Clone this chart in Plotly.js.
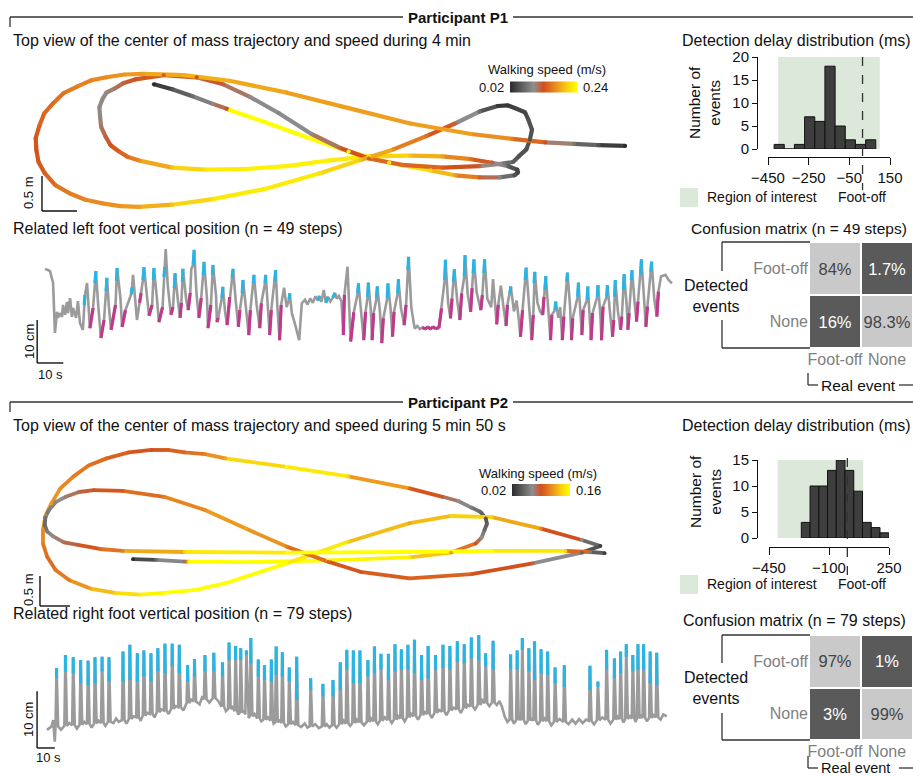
<!DOCTYPE html>
<html><head><meta charset="utf-8">
<script src="https://cdn.plot.ly/plotly-3.0.1.min.js"></script>
<style>html,body{margin:0;padding:0;background:#fff}#chart{width:913px;height:776px}</style>
</head><body><div id="chart"></div>
<script>
// ---------------- DATA ----------------
// Trajectories: [x (m), y (m), walking speed (m/s)]
const p1Path = [
[1.60,1.81,0.02],[1.86,1.74,0.05],[2.15,1.64,0.07],[2.44,1.53,0.10],[2.64,1.46,0.13],[2.69,1.44,0.24],[3.21,1.26,0.24],[3.79,1.05,0.24],[4.38,0.85,0.24],[4.96,0.69,0.23],[5.55,0.58,0.21],[5.90,0.51,0.18],[6.25,0.48,0.14],[6.54,0.48,0.09],[6.75,0.51,0.05],[6.80,0.55,0.04],[6.79,0.59,0.04],[6.66,0.64,0.06],[6.43,0.69,0.12],[6.13,0.74,0.15],[5.72,0.78,0.18],[5.26,0.79,0.20],[4.67,0.78,0.22],[4.08,0.72,0.23],[3.50,0.64,0.23],[2.91,0.60,0.23],[2.33,0.59,0.22],[1.86,0.62,0.20],[1.39,0.72,0.17],[1.23,0.77,0.15],[1.10,0.85,0.14],[0.98,0.94,0.13],[0.91,1.06,0.12],[0.845,1.20,0.11],[0.83,1.35,0.10],[0.82,1.48,0.10],[0.86,1.59,0.10],[0.92,1.69,0.10],[1.04,1.75,0.11],[1.17,1.83,0.12],[1.33,1.88,0.13],[1.74,1.94,0.14],[2.21,1.91,0.13],[2.59,1.81,0.12],[2.97,1.63,0.10],[3.38,1.40,0.09],[3.85,1.10,0.10],[4.26,0.90,0.12],[4.67,0.75,0.14],[5.14,0.66,0.15],[5.72,0.62,0.14],[6.25,0.64,0.12],[6.60,0.68,0.08],[6.73,0.70,0.06],[6.81,0.78,0.05],[6.92,0.88,0.05],[6.97,1.02,0.05],[7.00,1.16,0.05],[6.95,1.30,0.05],[6.90,1.41,0.04],[6.78,1.46,0.04],[6.65,1.51,0.03],[6.51,1.50,0.03],[6.25,1.42,0.07],[5.90,1.25,0.12],[5.49,1.07,0.15],[5.02,0.88,0.17],[4.55,0.73,0.20],[3.97,0.54,0.22],[3.21,0.32,0.23],[2.44,0.17,0.22],[1.86,0.09,0.20],[1.39,0.06,0.18],[1.12,0.07,0.175],[0.86,0.11,0.17],[0.62,0.16,0.165],[0.40,0.25,0.16],[0.19,0.37,0.15],[0.04,0.54,0.14],[-0.05,0.70,0.135],[-0.08,0.87,0.13],[-0.09,1.04,0.135],[-0.04,1.21,0.14],[0.03,1.39,0.145],[0.16,1.54,0.15],[0.31,1.685,0.155],[0.51,1.78,0.16],[0.70,1.865,0.165],[0.92,1.91,0.17],[1.18,1.95,0.175],[1.45,1.96,0.18],[2.03,1.94,0.19],[2.68,1.86,0.19],[3.50,1.69,0.18],[4.38,1.47,0.18],[5.26,1.25,0.18],[6.13,1.10,0.18],[6.72,1.03,0.16],[7.19,0.98,0.13],[7.60,0.96,0.08],[7.95,0.94,0.05],[8.33,0.93,0.02]
];
const p2Path = [
[1.55,0.78,0.02],[1.93,0.77,0.05],[2.41,0.74,0.08],[2.49,0.74,0.16],[3.43,0.73,0.16],[4.80,0.76,0.16],[6.16,0.81,0.15],[6.85,0.89,0.12],[7.26,1.04,0.09],[7.36,1.14,0.07],[7.41,1.27,0.05],[7.45,1.37,0.045],[7.43,1.46,0.04],[7.34,1.57,0.05],[7.19,1.64,0.06],[6.97,1.75,0.07],[6.71,1.82,0.085],[6.16,1.96,0.10],[5.14,2.16,0.14],[4.11,2.32,0.16],[3.09,2.46,0.125],[2.75,2.53,0.11],[2.41,2.56,0.10],[2.13,2.60,0.095],[1.86,2.60,0.09],[1.48,2.56,0.095],[1.11,2.46,0.10],[0.81,2.34,0.105],[0.56,2.16,0.11],[0.34,1.96,0.115],[0.19,1.71,0.12],[0.09,1.50,0.12],[0.05,1.27,0.115],[0.05,1.04,0.11],[0.12,0.82,0.10],[0.26,0.60,0.105],[0.49,0.43,0.11],[0.84,0.29,0.125],[1.25,0.22,0.14],[1.66,0.19,0.15],[2.07,0.22,0.16],[2.60,0.27,0.16],[3.09,0.38,0.16],[4.11,0.71,0.16],[5.14,1.07,0.14],[6.16,1.38,0.125],[6.85,1.50,0.14],[7.53,1.48,0.14],[8.35,1.29,0.11],[9.03,1.10,0.07],[9.34,1.00,0.03],[9.03,0.89,0.05],[8.21,0.71,0.085],[7.19,0.53,0.095],[6.16,0.46,0.10],[5.34,0.57,0.09],[4.80,0.74,0.095],[4.11,0.99,0.11],[3.43,1.29,0.125],[2.75,1.60,0.115],[2.07,1.82,0.11],[1.38,1.92,0.095],[0.90,1.93,0.09],[0.65,1.90,0.08],[0.43,1.82,0.075],[0.26,1.73,0.065],[0.15,1.60,0.06],[0.09,1.48,0.055],[0.08,1.35,0.05],[0.12,1.24,0.06],[0.22,1.16,0.07],[0.40,1.06,0.08],[0.63,1.02,0.085],[1.00,0.95,0.10],[1.38,0.92,0.11],[2.41,0.90,0.14],[4.11,0.89,0.16],[6.16,0.90,0.16],[7.53,0.92,0.16],[8.76,0.92,0.14],[9.17,0.90,0.06],[9.41,0.88,0.03]
];
const p1SpeedRange = [0.02, 0.24];
const p2SpeedRange = [0.02, 0.16];

// P1 left foot vertical position: [time (s), height (cm), segment class 0=gray 1=rising (magenta) 2=detected (cyan)]
const p1Signal = [
[0,21.9,0],[1.9,21.4,0],[3.1,18.6,0],[3.8,7.0,0],[4.6,11.9,0],[5.0,10.5,0],[5.7,11.6,0],[6.5,10.7,0],[6.9,13.5,0],[7.7,11.2,0],[8.4,14.2,0],[8.8,11.6,0],[9.6,15.1,0],[10.3,10.7,0],[10.7,12.8,0],[11.9,10.5,0],[12.6,14.4,0],[13.4,9.3,0],[14.5,7.7,0],
[15.0,13.5,2],[15.3,15.8,0],[16.1,18.6,0],[17.2,8.1,1],
[18.4,12.8,0],[19.1,18.6,2],[19.5,21.4,0],[20.3,14.0,0],[21.4,5.8,1],
[22.6,10.0,0],[23.4,16.7,2],[23.7,19.8,0],[24.5,12.8,0],[25.3,7.7,1],
[27.0,13.5,0],[27.4,19.1,2],[27.6,22.1,0],[28.9,15.0,0],[29.5,8.4,1],
[30.8,12.3,0],[33.0,16.0,2],[33.3,17.5,0],[33.7,20.5,0],[35.2,10.0,0],
[36.2,14.0,1],[36.8,16.3,0],[37.5,19.3,2],[37.9,22.3,0],[39.0,14.7,0],[39.8,11.0,1],
[41.0,13.5,0],[41.5,19.3,2],[41.7,22.1,0],[43.0,14.0,0],[43.6,9.5,1],
[45.0,13.0,0],[45.5,20.0,2],[45.9,22.3,0],[46.2,26.5,0],[47.0,18.0,0],[48.2,11.2,1],
[49.0,13.0,0],[49.5,17.4,2],[49.8,20.9,0],[50.8,15.0,0],[51.7,10.5,1],
[52.2,14.0,0],[52.6,18.8,2],[52.8,21.9,0],[54.0,15.0,0],[54.8,12.3,1],
[55.6,16.3,0],[56.0,21.9,0],[56.7,22.8,2],[57.1,26.3,0],[58.0,16.0,0],[58.9,10.5,1],
[59.8,15.1,0],[60.6,20.5,2],[60.9,23.5,0],[62.0,15.0,0],[62.4,8.1,1],
[63.5,13.5,0],[64.1,20.5,2],[64.3,22.8,0],[65.5,15.5,0],[65.8,9.5,1],
[66.3,10.5,0],[67.7,15.1,2],[68.1,17.7,0],[68.9,12.0,0],[69.7,8.8,1],
[70.7,15.3,0],[71.6,19.8,2],[72.0,21.9,0],[73.0,14.5,0],
[74.0,8.4,1],[74.6,12.3,0],[75.5,16.2,2],[75.8,19.3,0],[76.8,12.8,0],
[78.0,6.5,1],[78.6,12.3,0],[79.7,18.5,2],[80.0,20.5,0],[81.0,13.5,0],
[82.2,8.1,1],[82.8,13.9,0],[84.2,18.5,2],[84.5,20.5,0],[85.3,14.0,0],
[86.0,6.5,1],[86.6,12.3,0],[88.0,18.9,2],[88.3,21.6,0],[89.0,12.5,0],
[89.8,5.3,1],[90.4,13.5,0],[91.5,17.5,0],[92.5,13.0,0],[93.4,14.7,2],[93.7,16.2,0],[94.5,11.5,0],[95.5,9.5,0],[97.3,5.3,0],[98.3,13.9,0],
[99.5,14.7,0],[100.5,13.6,0],[101.5,15.0,0],[102.5,14.0,0],[103.5,15.5,0],[104.5,14.5,2],[105.0,15.6,0],[105.8,14.2,0],[106.7,17.0,0],[107.5,14.0,2],[108.3,15.4,0],[109.2,14.3,0],[110.2,15.2,2],[111.0,16.3,0],[111.7,15.0,0],[112.5,15.6,0],[113.5,14.3,0],
[114.2,6.5,1],[114.6,15.8,0],[115.8,22.4,0],[117.0,5.0,1],[118.2,11.8,0],[119.7,16.2,2],[120.0,18.5,0],[121.0,12.0,0],
[122.0,5.3,1],[122.7,11.9,0],[123.5,15.4,2],[123.8,18.7,0],[124.7,12.5,0],
[125.2,5.3,1],[125.8,11.6,0],[126.9,15.0,2],[127.2,17.8,0],[128.2,12.0,0],
[128.9,4.6,1],[129.5,10.4,0],[131.0,15.0,2],[131.3,18.5,0],[132.3,12.5,0],
[133.0,6.1,1],[133.6,11.9,0],[135.0,16.2,2],[135.3,19.5,0],[136.2,13.0,0],
[137.5,8.8,1],[138.2,13.5,0],[138.9,21.6,2],[139.2,24.7,0],[140.2,13.0,0],
[141.5,8.0,0],[142.5,8.6,0],[143.5,7.9,0],[144.5,8.3,1],[145.5,7.9,1],[146.5,8.4,1],[147.5,7.9,1],[148.5,8.4,1],[149.5,8.0,1],[150.8,8.2,1],
[151.8,12.7,0],[153.0,19.3,2],[153.3,24.0,0],[154.3,14.0,0],
[155.2,10.4,1],[155.8,15.0,0],[156.4,18.9,2],[156.7,21.8,0],[157.8,14.5,0],
[158.8,10.0,1],[159.5,16.2,0],[160.5,20.1,2],[160.8,25.1,0],[161.8,16.0,0],
[162.9,11.9,1],[163.5,17.4,0],[163.9,20.9,2],[164.2,24.1,0],[165.2,16.5,0],
[166.8,12.3,1],[167.4,15.8,0],[168.0,20.9,2],[168.3,24.1,0],[169.3,15.0,0],
[170.8,13.0,0],[171.5,19.5,0],[172.9,9.0,1],[173.5,13.5,0],[174.5,18.0,0],[175.5,13.0,0],[176.5,8.6,1],[177.0,13.5,0],[178.0,16.2,2],[178.3,17.8,0],[179.5,12.0,0],[180.5,14.5,0],[181.2,11.0,0],
[182.0,6.1,1],[182.8,12.3,0],[183.8,19.3,2],[184.2,22.2,0],[185.2,14.0,0],
[186.3,5.3,1],[186.9,11.2,0],[187.2,18.5,2],[187.5,21.2,0],[188.5,14.0,0],[189.5,12.0,0],
[190.5,11.2,1],[191.0,15.4,0],[191.4,17.0,2],[191.7,20.2,0],[192.7,12.0,0],
[193.5,5.3,1],[194.0,11.2,0],[195.2,12.3,2],[195.5,14.3,0],[196.5,10.5,0],[197.2,13.0,0],
[198.0,5.3,1],[198.6,10.8,0],[199.7,18.9,2],[200.0,21.0,0],[201.0,13.0,0],
[201.5,5.3,1],[202.0,10.4,0],[203.9,15.4,2],[204.2,18.7,0],[205.0,12.0,0],
[205.5,6.5,1],[206.0,12.3,0],[207.5,14.7,2],[207.8,17.8,0],[208.6,11.0,0],
[209.0,5.3,1],[209.6,11.6,0],[211.4,15.4,2],[211.7,18.1,0],[212.6,11.0,0],
[213.0,5.3,1],[213.6,13.1,0],[215.0,15.4,2],[215.3,18.1,0],[216.3,11.5,0],
[217.2,6.1,1],[217.7,10.0,0],[218.0,15.4,2],[218.3,19.3,0],[219.3,12.0,0],
[220.3,7.7,1],[220.8,10.8,0],[221.4,17.0,2],[221.7,20.7,0],[222.7,13.0,0],
[223.1,7.7,1],[223.6,11.6,0],[224.4,19.3,2],[224.7,21.6,0],[225.7,14.0,0],
[226.4,9.6,1],[227.0,14.3,0],[228.0,20.5,2],[228.3,24.1,0],[229.3,15.0,0],
[230.0,8.4,1],[230.6,13.1,0],[231.9,21.2,2],[232.2,23.6,0],[233.2,15.0,0],
[234.2,10.8,1],[234.8,16.6,0],[235.8,20.1,0],[237.5,20.5,0],[238.7,19.3,0],[240.0,18.5,0]
];

// P2 right foot: steps [time (s), baseline (cm), peak (cm), lower end of detected segment (cm)]
const p2Steps = [
[5.4,3.8,14.1,12.3],[10.4,3.9,16.4,13.5],[14.8,4.0,16.0,13.2],[19.0,4.1,15.5,11.4],[23.2,4.2,15.4,11.1],[27.1,4.3,16.0,11.4],[31.1,4.4,16.1,13.5],[35.0,4.6,16.0,11.7],
[42.9,4.9,17.0,11.7],[46.8,5.1,18.2,12.0],[51.0,5.4,16.7,11.7],[54.7,5.7,17.2,12.6],[58.7,6.0,16.7,11.7],[62.6,6.3,17.6,13.5],[66.6,6.6,18.4,13.2],[70.7,6.9,18.4,14.4],[74.7,7.2,18.2,13.2],
[79.4,7.9,14.6,11.7],[83.3,8.2,15.7,12.6],[89.2,8.6,16.4,13.5],[94.2,8.8,16.8,13.5],
[99.1,7.3,15.1,12.6],[102.8,6.9,18.6,15.5],[106.5,6.5,18.0,15.5],[109.4,6.2,17.6,15.5],[112.6,5.9,17.2,16.4],[115.1,5.6,19.4,14.9],[119.3,5.2,15.6,12.6],[122.8,5.0,14.6,12.0],[126.7,4.8,15.6,11.7],
[129.4,4.5,17.9,12.9],[132.9,4.4,16.9,12.6],[136.8,4.2,14.2,11.7],[141.0,4.0,16.1,8.5],[148.9,3.8,12.3,10.2],[155.8,3.8,11.3,9.1],[161.5,4.0,12.0,9.1],
[165.6,4.2,15.1,10.2],[169.3,4.3,17.3,13.8],[173.0,4.4,17.2,11.4],[176.7,4.5,17.2,11.4],[181.2,4.6,15.5,12.6],[184.9,4.7,17.9,13.2],[188.6,4.8,16.6,13.8],[192.8,4.9,16.6,12.0],[196.5,5.0,18.3,13.5],[200.1,5.2,17.4,13.8],
[203.8,5.4,18.2,13.8],[207.5,5.6,19.1,13.2],[211.5,5.8,16.4,12.0],[215.2,6.0,18.0,12.3],[219.4,6.2,16.4,13.8],[223.6,6.4,18.2,14.1],[227.5,6.6,18.0,13.8],[231.7,6.8,18.8,15.2],[235.6,7.0,18.3,14.9],[239.6,7.3,19.5,15.8],[243.8,7.6,19.9,15.4],[247.7,7.9,16.7,14.4],[251.9,8.0,18.9,13.8],
[261.8,5.0,16.5,13.9],[265.5,4.9,17.2,13.8],[268.4,4.9,19.4,17.3],[272.1,4.8,17.6,13.5],[275.3,4.8,18.8,12.0],[279.0,4.7,17.4,13.2],[282.7,4.7,17.0,12.9],[286.9,4.6,14.2,11.4],[292.1,4.6,14.6,10.8],
[306.6,4.8,14.5,10.2],[311.1,4.9,11.7,10.8],[316.0,5.0,17.3,13.8],[320.4,5.0,15.8,12.3],[323.9,5.1,17.0,13.2],[327.1,5.1,18.3,16.1],[330.8,5.2,16.4,13.5],[333.7,5.2,18.3,13.8],[336.9,5.3,18.3,13.8],[340.6,5.3,17.0,11.4],[344.3,5.4,16.8,11.1]
];
// P2 baseline samples between steps [time (s), height (cm)]
const p2Baseline = [
[0,3.2],[2.5,3.8],[3.5,4.9],[4.4,1.1],
[7.9,3.2],[12.6,4.4],[16.9,3.4],[21.1,4.6],[25.2,3.6],[29.1,4.8],[33.0,3.9],
[37.5,4.4],[39.0,5.2],[40.5,4.6],
[44.9,4.3],[48.9,5.6],[52.9,4.8],[56.7,6.2],[60.7,5.4],[64.6,6.8],[68.7,6.0],[72.7,7.4],[77.0,6.6],[81.4,8.5],[86.2,7.7],[87.5,8.9],[91.7,8.0],[96.7,8.3],
[101.0,6.5],[104.7,7.2],[108.0,5.9],[111.0,6.6],[113.9,5.3],[117.2,6.0],[121.0,4.7],[124.8,5.4],[128.0,4.3],[131.2,5.0],[134.9,3.8],[138.9,4.6],
[143.5,3.7],[145.5,4.3],[147.0,3.6],[151.5,4.2],[153.5,3.5],[158.0,4.2],[159.5,3.6],
[163.5,3.6],[167.5,4.8],[171.2,3.9],[174.9,5.0],[179.0,4.0],[183.0,5.2],[186.8,4.2],[190.7,5.4],[194.7,4.4],[198.3,5.6],[202.0,4.7],[205.7,6.0],[209.5,5.0],[213.4,6.3],[217.3,5.3],[221.5,6.7],[225.6,5.8],[229.6,7.1],[233.7,6.2],[237.6,7.6],[241.7,6.8],[245.8,8.4],[249.8,7.4],
[254.0,7.6],[255.5,8.3],[257.0,7.2],[258.5,5.5],[260.0,4.6],
[263.7,4.3],[267.0,5.4],[270.3,4.2],[273.7,5.3],[277.2,4.1],[280.9,5.2],[284.8,4.0],[289.5,5.1],
[294.5,4.2],[296.5,5.0],[298.5,4.3],[300.5,5.1],[302.5,4.4],[304.5,5.0],
[308.9,4.2],[313.6,5.4],[318.2,4.3],[322.2,5.5],[325.5,4.5],[329.0,5.6],[332.3,4.6],[335.3,5.7],[338.8,4.7],[342.5,5.8],
[346.5,5.0],[348.0,5.9],[350.0,5.6]
];

// Detection delay histograms
const p1DelayBins = [-395,-345,-295,-245,-195,-145,-95,-45,5,55];
const p1DelayCounts = [1,0,1,7,6,18,5,2,1,2];
const p2DelayBins = [-236,-185,-134,-83,-32,19,70,121,172,223];
const p2DelayCounts = [3,10,10,13,15,13,9,3,2,1];
const regionOfInterest = [-400, 100];
const p1FootOff = 15, p2FootOff = 7;
const p1DelayTicks = [-450,-250,-50,150], p2DelayTicks = [-450,-100,250];

// Confusion matrices (rows: detected Foot-off, None; cols: real Foot-off, None) in %
const eventLabels = ['Foot-off','None'];
const p1Confusion = [[84,1.7],[16,98.3]];
const p2Confusion = [[97,1],[3,99]];

// ---------------- RENDER ----------------
const W=913,H=776;
const FONT='Liberation Sans, Arial, Helvetica, sans-serif';
const PX=x=>x/W, PY=y=>1-y/H;
const speedScale=[[0,'#2b2b2b'],[0.35,'#8f8f8f'],[0.5,'#d2501c'],[0.68,'#ea8c22'],[0.85,'#f8d010'],[1,'#ffff00']];
function hex2rgb(h){return [1,3,5].map(i=>parseInt(h.slice(i,i+2),16));}
function scaleColor(v,lo,hi){
  let f=Math.max(0,Math.min(1,(v-lo)/(hi-lo)));
  for(let i=1;i<speedScale.length;i++){
    if(f<=speedScale[i][0]){
      const a=speedScale[i-1],b=speedScale[i],r=(f-a[0])/(b[0]-a[0]);
      const ca=hex2rgb(a[1]),cb=hex2rgb(b[1]);
      return 'rgb('+ca.map((c,k)=>Math.round(c+(cb[k]-c)*r)).join(',')+')';
    }
  }
  return speedScale[speedScale.length-1][1];
}
const traces=[];
function trajectory(path,range,xa,ya,width,cb){
  const X=path.map(r=>r[0]),Y=path.map(r=>r[1]),S=path.map(r=>r[2]);
  for(let i=0;i<X.length-1;i++){
    traces.push({type:'scatter',mode:'lines',x:[X[i],X[i+1]],y:[Y[i],Y[i+1]],xaxis:xa,yaxis:ya,
      line:{color:scaleColor((S[i]+S[i+1])/2,range[0],range[1]),width:width},hoverinfo:'skip'});
  }
  traces.push({type:'scatter',mode:'markers',x:X,y:Y,xaxis:xa,yaxis:ya,hoverinfo:'skip',
    marker:{size:width,color:S,cmin:range[0],cmax:range[1],colorscale:speedScale,line:{width:0},showscale:true,colorbar:cb}});
}
const GRAY='#9b9b9b',CYAN='#27b5e5',MAGENTA='#bf3a8b';
function p1SignalTraces(){
  const T=p1Signal.map(r=>r[0]),Y=p1Signal.map(r=>r[1]),C=p1Signal.map(r=>r[2]);
  traces.push({type:'scatter',mode:'lines',x:T,y:Y,xaxis:'x2',yaxis:'y2',line:{color:GRAY,width:2.6},hoverinfo:'skip'});
  const mx=[],my=[],cx=[],cy=[];
  for(let i=0;i<T.length-1;i++){
    if(C[i]===1){mx.push(T[i],T[i+1],null);my.push(Y[i],Y[i+1],null);}
    if(C[i]===2){cx.push(T[i],T[i+1],null);cy.push(Y[i],Y[i+1],null);}
  }
  traces.push({type:'scatter',mode:'lines',x:mx,y:my,xaxis:'x2',yaxis:'y2',line:{color:MAGENTA,width:3.2},hoverinfo:'skip',connectgaps:false});
  traces.push({type:'scatter',mode:'lines',x:cx,y:cy,xaxis:'x2',yaxis:'y2',line:{color:CYAN,width:3.2},hoverinfo:'skip',connectgaps:false});
}
const SPIKE_RISE=0.6, SPIKE_FALL=0.9; // drawing half-widths of a step spike (s)
function p2SignalTraces(){
  const pts=p2Baseline.map(r=>[r[0],r[1]]);
  p2Steps.forEach(s=>{pts.push([s[0]-SPIKE_RISE,s[1]]);pts.push([s[0],s[2]]);pts.push([s[0]+SPIKE_FALL,s[1]]);});
  pts.sort((a,b)=>a[0]-b[0]);
  traces.push({type:'scatter',mode:'lines',x:pts.map(p=>p[0]),y:pts.map(p=>p[1]),xaxis:'x6',yaxis:'y6',line:{color:GRAY,width:2.6},hoverinfo:'skip'});
  const cx=[],cy=[];
  p2Steps.forEach(s=>{cx.push(s[0],s[0],null);cy.push(s[3],s[2],null);});
  traces.push({type:'scatter',mode:'lines',x:cx,y:cy,xaxis:'x6',yaxis:'y6',line:{color:CYAN,width:3.2},hoverinfo:'skip',connectgaps:false});
}
function hist(bins,counts,width,xa,ya){
  traces.push({type:'bar',x:bins,y:counts,width:width,xaxis:xa,yaxis:ya,hoverinfo:'skip',
    marker:{color:'#3e3e3e',line:{color:'#111',width:1}}});
}
function confusion(conf,xa,ya){
  const rows=[conf[1],conf[0]];
  traces.push({type:'heatmap',x:eventLabels,y:[eventLabels[1],eventLabels[0]],z:rows,
    text:rows.map(r=>r.map(v=>v+'%')),texttemplate:'%{text}',textfont:{family:FONT,size:16.5},
    colorscale:[[0,'#5a5a5a'],[0.5,'#5a5a5a'],[0.5,'#c9c9c9'],[1,'#c9c9c9']],zmin:0,zmax:100,
    showscale:false,xgap:2,ygap:2,xaxis:xa,yaxis:ya,hoverinfo:'skip'});
}

trajectory(p1Path,p1SpeedRange,'x','y',4.2,{orientation:'h',x:PX(543.5),xanchor:'center',y:PY(86.5),yanchor:'middle',len:67,lenmode:'pixels',thickness:11,outlinewidth:0,showticklabels:false,ticks:'',xpad:0,ypad:0});
p1SignalTraces();
hist(p1DelayBins,p1DelayCounts,50,'x3','y3');
confusion(p1Confusion,'x4','y4');
trajectory(p2Path,p2SpeedRange,'x5','y5',3.8,{orientation:'h',x:PX(541),xanchor:'center',y:PY(490),yanchor:'middle',len:58,lenmode:'pixels',thickness:12,outlinewidth:0,showticklabels:false,ticks:'',xpad:0,ypad:0});
p2SignalTraces();
hist(p2DelayBins,p2DelayCounts,51,'x7','y7');
confusion(p2Confusion,'x8','y8');

const hidden={visible:false,showgrid:false,zeroline:false,fixedrange:true};
function histAxes(xr,yr,xd,yd,xpos,ypos,xt,yt){
  const common={showline:true,linecolor:'#111',linewidth:1,ticks:'outside',tickcolor:'#111',tickwidth:1,showgrid:false,zeroline:false,tickfont:{family:FONT,size:15,color:'#111'}};
  return [Object.assign({},common,{domain:xd,range:xr,anchor:'free',position:xpos,tickvals:xt,ticklen:7}),
          Object.assign({},common,{domain:yd,range:yr,anchor:'free',position:ypos,tickvals:yt,ticklen:5})];
}
const [hx1,hy1]=histAxes([-450,150],[0,20],[PX(768),PX(890)],[PY(149),PY(57)],PY(157),PX(757),p1DelayTicks,[0,5,10,15,20]);
const [hx2,hy2]=histAxes([-450,250],[0,15],[PX(769),PX(889)],[PY(538),PY(460)],PY(547),PX(757),p2DelayTicks,[0,5,10,15]);
function confAxes(yd){
  const f={family:FONT,size:16,color:'#7f7f7f'};
  return [{domain:[PX(809),1],type:'category',ticks:'',showline:false,showgrid:false,zeroline:false,tickfont:f,fixedrange:true},
          {domain:yd,type:'category',ticks:'',showline:false,showgrid:false,zeroline:false,tickfont:f,fixedrange:true}];
}
const [cx1,cy1]=confAxes([PY(348),PY(242)]);
const [cx2,cy2]=confAxes([PY(740),PY(635)]);

const annotations=[],shapes=[];
function txt(text,x,y,size,o={}){
  annotations.push({text,xref:'paper',yref:'paper',x:PX(x),y:PY(y),showarrow:false,xanchor:o.anchor||'left',yanchor:'middle',
    align:'center',textangle:o.angle||0,font:{family:FONT,size,color:o.color||'#111'}});
}
function seg(x0,y0,x1,y1,o={}){
  shapes.push({type:'line',xref:'paper',yref:'paper',x0:PX(x0),y0:PY(y0),x1:PX(x1),y1:PY(y1),line:{color:o.color||'#333',width:o.width||1.3}});
}
function dataLine(xr,yr,x0,y0,x1,y1){
  shapes.push({type:'line',xref:xr,yref:yr,x0,y0,x1,y1,line:{color:'#111',width:1.4}});
}
function section(name,dy,title1,title2){
  txt('<b>'+name+'</b>',458,17+dy,15,{anchor:'center'});
  seg(10,17+dy,403,17+dy); seg(513,17+dy,913,17+dy); seg(10,17+dy,10,27+dy);
  txt(title1,11,40+dy,16);
  txt('Detection delay distribution (ms)',680,40+dy,16);
  txt(title2,11,228+dy,16);
}
section('Participant P1',0,'Top view of the center of mass trajectory and speed during 4 min','Related left foot vertical position (n = 49 steps)');
section('Participant P2',385,'Top view of the center of mass trajectory and speed during 5 min 50 s','Related right foot vertical position (n = 79 steps)');
// colorbar labels
txt('Walking speed (m/s)',547,69,13,{anchor:'center'});
txt(String(p1SpeedRange[0]),506,87,13,{anchor:'right'});
txt(String(p1SpeedRange[1]),581,87,13);
txt('Walking speed (m/s)',538,473,13,{anchor:'center'});
txt(String(p2SpeedRange[0]),508,490,13,{anchor:'right'});
txt(String(p2SpeedRange[1]),574,490,13);
// scale bars
dataLine('x','y',0,0,0,0.5); dataLine('x','y',0,0,0.5,0);
txt('0.5 m',28,193,13,{anchor:'center',angle:-90});
dataLine('x5','y5',0,0,0,0.5); dataLine('x5','y5',0,0,0.5,0);
txt('0.5 m',28,590,13,{anchor:'center',angle:-90});
dataLine('x2','y2',-3,0,-3,10); dataLine('x2','y2',-3,0,7,0);
txt('10 cm',29,342,13,{anchor:'center',angle:-90}); txt('10 s',50,374,13,{anchor:'center'});
dataLine('x6','y6',-5.6,0,-5.6,10); dataLine('x6','y6',-5.6,0,4.4,0);
txt('10 cm',28,720,13,{anchor:'center',angle:-90}); txt('10 s',48,757,13,{anchor:'center'});
// histogram extras
shapes.push({type:'rect',xref:'x3',yref:'y3',x0:regionOfInterest[0],x1:regionOfInterest[1],y0:0,y1:20,fillcolor:'#dce8d9',line:{width:0},layer:'below'});
shapes.push({type:'rect',xref:'x7',yref:'y7',x0:regionOfInterest[0],x1:regionOfInterest[1],y0:0,y1:15,fillcolor:'#dce8d9',line:{width:0},layer:'below'});
shapes.push({type:'line',xref:'x3',yref:'paper',x0:p1FootOff,x1:p1FootOff,y0:PY(57),y1:PY(190),line:{color:'#333',width:1.3,dash:'dash'}});
shapes.push({type:'line',xref:'x7',yref:'paper',x0:p2FootOff,x1:p2FootOff,y0:PY(458),y1:PY(577),line:{color:'#333',width:1.3,dash:'dash'}});
[0,387].forEach(dy=>{
  shapes.push({type:'rect',xref:'paper',yref:'paper',x0:PX(680),x1:PX(698),y0:PY(188+dy),y1:PY(207+dy),fillcolor:'#dce8d9',line:{width:0}});
  txt('Region of interest',705,197+dy,14);
  txt('Foot-off',862,197+dy,14,{anchor:'center'});
});
txt('Number of<br>events',705,103,15.5,{anchor:'center',angle:-90});
txt('Number of<br>events',705,492,15.5,{anchor:'center',angle:-90});
// confusion extras
txt('Confusion matrix (n = 49 steps)',689,228,15.5);
txt('Confusion matrix (n = 79 steps)',681,620,16);
function bracket(top,bot,gapTop,gapBot,labelY,realY,size){
  seg(722,top,810,top); seg(722,bot,810,bot); seg(722,top,722,gapTop); seg(722,gapBot,722,bot);
  txt('Detected<br>events',716,labelY,16,{anchor:'center'});
  seg(808,realY-12,808,realY); seg(808,realY,818,realY); seg(899,realY,913,realY);
  txt('Real event',819,realY,size);
}
bracket(242,348,271,320,296,385,15.5);
bracket(635,740,663,713,688,768,14.5);

const layout={width:W,height:H,margin:{l:0,r:0,t:0,b:0},paper_bgcolor:'#fff',plot_bgcolor:'rgba(0,0,0,0)',showlegend:false,
  font:{family:FONT,color:'#111'},barmode:'overlay',
  xaxis:Object.assign({},hidden,{domain:[PX(20),PX(640)],range:[-0.314,8.543],anchor:'y'}),
  yaxis:Object.assign({},hidden,{domain:[PY(215),PY(70)],range:[-0.057,2.014],anchor:'x'}),
  xaxis2:Object.assign({},hidden,{domain:[PX(30),PX(675)],range:[-5.74,241.15],anchor:'y2'}),
  yaxis2:Object.assign({},hidden,{domain:[PY(366),PY(235)],range:[-0.7,29.77],anchor:'x2'}),
  xaxis3:hx1,yaxis3:hy1,
  xaxis4:Object.assign(cx1,{anchor:'y4'}),yaxis4:Object.assign(cy1,{anchor:'x4'}),
  xaxis5:Object.assign({},hidden,{domain:[PX(20),PX(640)],range:[-0.333,10],anchor:'y5'}),
  yaxis5:Object.assign({},hidden,{domain:[PY(610),PY(445)],range:[-0.0667,2.683],anchor:'x5'}),
  xaxis6:Object.assign({},hidden,{domain:[PX(30),PX(670)],range:[-9.6,351.8],anchor:'y6'}),
  yaxis6:Object.assign({},hidden,{domain:[PY(751),PY(625)],range:[-0.53,21.69],anchor:'x6'}),
  xaxis7:hx2,yaxis7:hy2,
  xaxis8:Object.assign(cx2,{anchor:'y8'}),yaxis8:Object.assign(cy2,{anchor:'x8'}),
  annotations,shapes};
Plotly.newPlot('chart',traces,layout,{displayModeBar:false,staticPlot:true});
</script></body></html>
